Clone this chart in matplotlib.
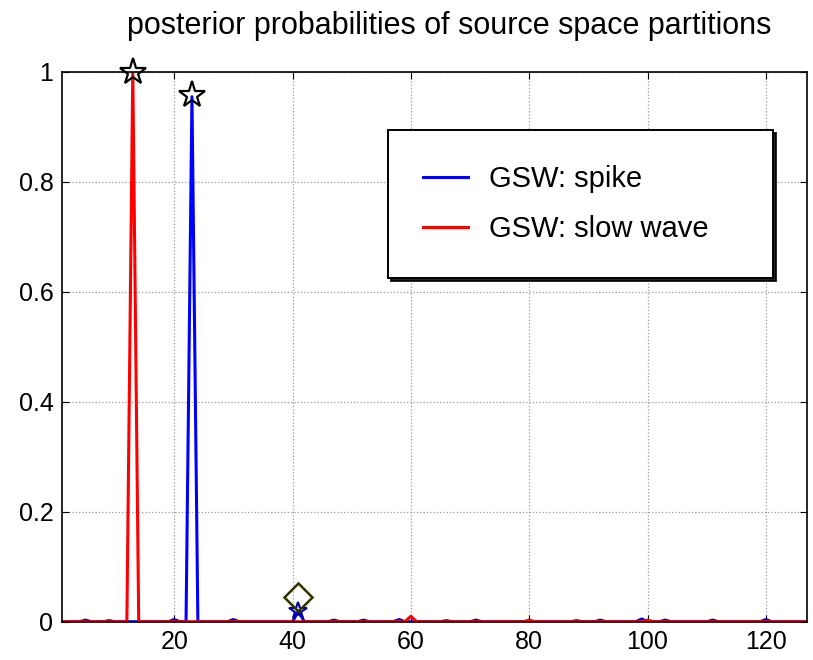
import numpy as np
import matplotlib.pyplot as plt

plt.rcParams['font.family'] = ['Liberation Sans', 'DejaVu Sans']

# partitions 1..127
n_parts = 127
partition = np.arange(1, n_parts + 1)

# nonzero posterior values (partition -> probability)
spike_idx = [5, 9, 20, 23, 30, 41, 47, 52, 58, 66, 71, 88, 92, 99, 103, 111, 120]
spike_val = [0.003, 0.002, 0.004, 0.955, 0.004, 0.02, 0.003, 0.003, 0.004, 0.002, 0.003, 0.002, 0.003, 0.005, 0.003, 0.003, 0.004]
slow_idx = [13, 60, 80, 100]
slow_val = [1.0, 0.01, 0.003, 0.003]

spike = np.zeros(n_parts)
spike[np.array(spike_idx) - 1] = spike_val
slow = np.zeros(n_parts)
slow[np.array(slow_idx) - 1] = slow_val

# markers
star_x = [13, 23, 41]
star_y = [1.0, 0.958, 0.02]
diamond_x = [41]
diamond_y = [0.045]

fig = plt.figure(figsize=(8.13, 6.6), dpi=100)
ax = fig.add_axes([0.076, 0.058, 0.917, 0.833])

ax.plot(partition, spike, color='#0000ff', lw=2.2, label='GSW: spike')
ax.plot(partition, slow, color='#ff0000', lw=2.2, label='GSW: slow wave')
ax.plot(star_x[:2], star_y[:2], ls='none', marker='*', ms=20, mfc='none', mec='black', mew=1.6, clip_on=False)
ax.plot(star_x[2:], star_y[2:], ls='none', marker='*', ms=13, mfc='none', mec='#0000aa', mew=1.5)
ax.plot(diamond_x, diamond_y, ls='none', marker='D', ms=14, mfc='none', mec='#333300', mew=1.8)

ax.set_xlim(1, 127)
ax.set_ylim(0, 1)
ax.set_xticks([20, 40, 60, 80, 100, 120])
ax.set_yticks([0, 0.2, 0.4, 0.6, 0.8, 1])
ax.set_yticklabels(['0', '0.2', '0.4', '0.6', '0.8', '1'])
ax.tick_params(direction='in', top=True, right=True, labelsize=18, length=5, pad=6)
ax.grid(True, ls=':', color='#999999', lw=0.9)
for s in ax.spines.values():
    s.set_linewidth(1.2)

ax.set_title('posterior probabilities of source space partitions', fontsize=22, pad=27, x=0.52)

leg = ax.legend(loc='upper left', bbox_to_anchor=(0.4376, 0.5, 0.517, 0.3945), mode='expand',
                fontsize=21, fancybox=False, shadow={'color': 'black', 'alpha': 0.85},
                framealpha=1, edgecolor='black', borderpad=1.2, labelspacing=0.75,
                handlelength=1.55, handletextpad=0.7, borderaxespad=0)
leg.get_frame().set_linewidth(1.4)

fig.savefig('out.png', dpi=100)
